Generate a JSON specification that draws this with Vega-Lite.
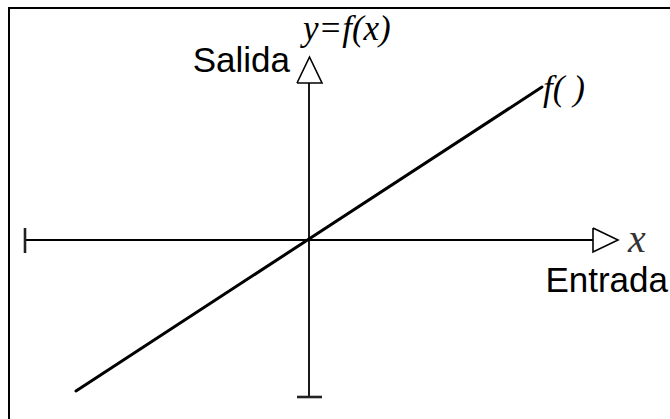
{
  "$schema": "https://vega.github.io/schema/vega-lite/v6.json",
  "width": 670,
  "height": 419,
  "autosize": {"type": "fit", "contains": "padding"},
  "padding": 0,
  "background": "white",
  "config": {"view": {"stroke": null}},
  "encoding": {
    "x": {"field": "u", "type": "quantitative", "scale": {"domain": [-30.9, 36.1], "nice": false, "zero": false}, "axis": null},
    "y": {"field": "v", "type": "quantitative", "scale": {"domain": [-17.9, 24], "nice": false, "zero": false}, "axis": null}
  },
  "layer": [
    {
      "data": {"values": [{"u": -30.0, "v": 23.2, "u2": 40, "v2": -25}]},
      "mark": {"type": "rect", "fill": null, "filled": false, "stroke": "#000000", "strokeWidth": 2, "clip": true},
      "encoding": {"x2": {"field": "u2"}, "y2": {"field": "v2"}}
    },
    {
      "data": {"values": [
        {"part": "eje x", "u": -28.4, "v": 0, "u2": 28.4, "v2": 0},
        {"part": "eje y", "u": 0, "v": 15.7, "u2": 0, "v2": -15.7}
      ]},
      "mark": {"type": "rule", "color": "#000000", "strokeWidth": 1.8},
      "encoding": {"x2": {"field": "u2"}, "y2": {"field": "v2"}}
    },
    {
      "data": {"values": [
        {"part": "tope izq", "u": -28.4, "v": 1.2, "u2": -28.4, "v2": -1.3},
        {"part": "tope inf", "u": -1.2, "v": -15.7, "u2": 1.3, "v2": -15.7}
      ]},
      "mark": {"type": "rule", "color": "#222222", "strokeWidth": 2.6},
      "encoding": {"x2": {"field": "u2"}, "y2": {"field": "v2"}}
    },
    {
      "data": {"values": [{"part": "f", "u": -23.3, "v": -15.1, "u2": 23.3, "v2": 15.3}]},
      "mark": {"type": "rule", "color": "#000000", "strokeWidth": 3, "strokeCap": "round"},
      "encoding": {"x2": {"field": "u2"}, "y2": {"field": "v2"}}
    },
    {
      "data": {"values": [
        {"tri": "x", "k": 1, "u": 28.4, "v": 1.2},
        {"tri": "x", "k": 2, "u": 30.9, "v": 0},
        {"tri": "x", "k": 3, "u": 28.4, "v": -1.2},
        {"tri": "x", "k": 4, "u": 28.4, "v": 1.2},
        {"tri": "y", "k": 1, "u": -1.2, "v": 15.7},
        {"tri": "y", "k": 2, "u": 0.05, "v": 18.3},
        {"tri": "y", "k": 3, "u": 1.3, "v": 15.7},
        {"tri": "y", "k": 4, "u": -1.2, "v": 15.7}
      ]},
      "mark": {"type": "line", "color": "#000000", "strokeWidth": 1.6, "strokeJoin": "miter"},
      "encoding": {"detail": {"field": "tri"}, "order": {"field": "k", "type": "quantitative"}}
    },
    {
      "data": {"values": [
        {"label": "Salida", "u": -1.9, "v": 16.8},
        {"label": "Entrada", "u": 35.9, "v": -5.2}
      ]},
      "mark": {"type": "text", "font": "Liberation Sans", "fontSize": 35, "align": "right", "baseline": "alphabetic", "color": "#000000"},
      "encoding": {"text": {"field": "label"}}
    },
    {
      "data": {"values": [
        {"label": "y=f(x)", "u": -0.6, "v": 20.0},
        {"label": "f( )", "u": 23.4, "v": 14.0}
      ]},
      "mark": {"type": "text", "font": "Liberation Serif", "fontStyle": "italic", "fontSize": 35, "align": "left", "baseline": "alphabetic", "color": "#000000"},
      "encoding": {"text": {"field": "label"}}
    },
    {
      "data": {"values": [{"label": "x", "u": 31.9, "v": 0}]},
      "mark": {"type": "text", "font": "Liberation Serif", "fontStyle": "italic", "fontSize": 40, "align": "left", "baseline": "middle", "color": "#333333"},
      "encoding": {"text": {"field": "label"}}
    }
  ]
}
